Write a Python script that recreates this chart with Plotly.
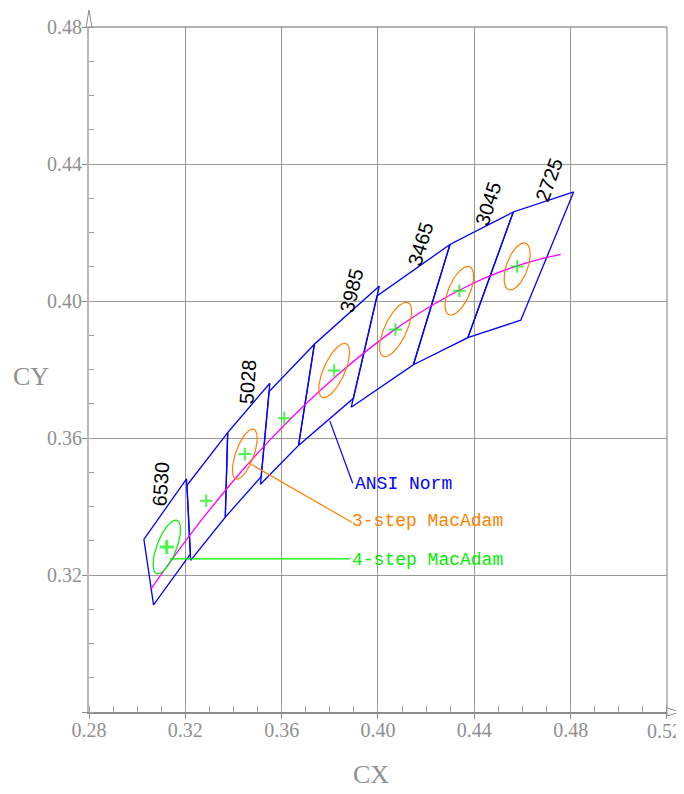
import numpy as np
import plotly.graph_objects as go

# ---------------- data ----------------
# ANSI C78.377 quadrangles (corner chromaticities)
quad_names = ["6500K", "5700K", "5000K", "4500K", "4000K", "3500K", "3000K", "2700K"]
quad_x = [
    [0.3205, 0.3028, 0.3068, 0.3221],
    [0.3376, 0.3207, 0.3222, 0.3366],
    [0.3551, 0.3376, 0.3366, 0.3515],
    [0.3736, 0.3548, 0.3512, 0.3670],
    [0.4006, 0.3736, 0.3670, 0.3898],
    [0.4299, 0.3996, 0.3889, 0.4147],
    [0.4562, 0.4299, 0.4147, 0.4373],
    [0.4813, 0.4562, 0.4373, 0.4593],
]
quad_y = [
    [0.3481, 0.3304, 0.3113, 0.3261],
    [0.3616, 0.3462, 0.3243, 0.3369],
    [0.3760, 0.3616, 0.3369, 0.3487],
    [0.3874, 0.3736, 0.3465, 0.3578],
    [0.4044, 0.3874, 0.3578, 0.3716],
    [0.4165, 0.4015, 0.3690, 0.3814],
    [0.4260, 0.4165, 0.3814, 0.3893],
    [0.4319, 0.4260, 0.3893, 0.3944],
]
center_x = [0.3123, 0.3287, 0.3447, 0.3611, 0.3818, 0.4073, 0.4338, 0.4578]
center_y = [0.3282, 0.3417, 0.3553, 0.3658, 0.3797, 0.3917, 0.4030, 0.4101]

# MacAdam ellipses (1-step semi-axes, orientation, number of steps)
ell_cx = [0.3123, 0.3447, 0.3818, 0.4073, 0.4338, 0.4578]
ell_cy = [0.3282, 0.3553, 0.3797, 0.3917, 0.4030, 0.4101]
ell_a = [0.00223, 0.00274, 0.00313, 0.00317, 0.00278, 0.00258]
ell_b = [0.00095, 0.00118, 0.00134, 0.00139, 0.00136, 0.00137]
ell_theta = [58.23, 59.62, 54.00, 52.53, 53.22, 57.17]
ell_steps = [4, 3, 3, 3, 3, 3]

# Planckian locus (read / tabulated points)
planck_x = [0.3055, 0.315, 0.325, 0.335, 0.345, 0.355, 0.365, 0.375, 0.385,
            0.395, 0.405, 0.415, 0.425, 0.435, 0.445, 0.455, 0.465, 0.4759]
planck_y = [0.3157, 0.3251, 0.3345, 0.3433, 0.3516, 0.3593, 0.3665, 0.3732, 0.3795,
            0.3853, 0.3907, 0.3955, 0.3998, 0.4036, 0.4069, 0.4096, 0.4118, 0.4136]

# CCT labels
cct_labels = ["6530", "5028", "3985", "3465", "3045", "2725"]
cct_x = [0.3099, 0.3460, 0.3891, 0.4176, 0.4460, 0.4713]
cct_y = [0.3465, 0.3766, 0.4032, 0.4167, 0.4285, 0.4355]
cct_angle = [-86, -86, -76, -73, -72, -70]

# callouts
ansi_lead_x = [0.3800, 0.3895]
ansi_lead_y = [0.3650, 0.3468]
mac3_lead_x = [0.3464, 0.3891]
mac3_lead_y = [0.3527, 0.3354]
mac4_lead_x = [0.3136, 0.3883]
mac4_lead_y = [0.3247, 0.3247]
callout_text = ["ANSI Norm", "3-step MacAdam", "4-step MacAdam"]
callout_x = [0.3896, 0.3885, 0.3885]
callout_y = [0.3465, 0.3357, 0.3244]

x_ticks = [0.28, 0.32, 0.36, 0.40, 0.44, 0.48, 0.52]
y_ticks = [0.28, 0.32, 0.36, 0.40, 0.44, 0.48]
x_ticklabels = ["0.28", "0.32", "0.36", "0.40", "0.44", "0.48", ""]
x_last_label = "0.52"   # drawn right-aligned at the axis end so it stays inside the page
y_ticklabels = ["", "0.32", "0.36", "0.40", "0.44", "0.48"]

# ---------------- figure ----------------
BLUE = "#0000ff"
ORANGE = "#ff8000"
GREEN = "#00ee00"
MAGENTA = "#ff00ff"
GRID = "#999999"
TICKFONT = dict(family="Liberation Serif, DejaVu Serif", size=20, color="#909090")

fig = go.Figure()

for qx, qy in zip(quad_x, quad_y):
    fig.add_trace(go.Scatter(x=qx + [qx[0]], y=qy + [qy[0]], mode="lines",
                             line=dict(color=BLUE, width=1.3), hoverinfo="skip"))

fig.add_trace(go.Scatter(x=planck_x, y=planck_y, mode="lines",
                         line=dict(color=MAGENTA, width=1.3, shape="spline"),
                         hoverinfo="skip"))

t = np.linspace(0, 2 * np.pi, 120)
for cx, cy, a, b, th, n in zip(ell_cx, ell_cy, ell_a, ell_b, ell_theta, ell_steps):
    A, B, r = a * n, b * n, np.radians(th)
    ex = cx + A * np.cos(t) * np.cos(r) - B * np.sin(t) * np.sin(r)
    ey = cy + A * np.cos(t) * np.sin(r) + B * np.sin(t) * np.cos(r)
    col = GREEN if n == 4 else ORANGE
    fig.add_trace(go.Scatter(x=ex, y=ey, mode="lines",
                             line=dict(color=col, width=1.2), hoverinfo="skip"))

fig.add_trace(go.Scatter(x=center_x, y=center_y, mode="markers",
                         marker=dict(symbol="cross-thin", size=[10, 9, 9, 9, 9, 9, 9, 9],
                                     line=dict(color=GREEN, width=[3, 2, 2, 2, 2, 2, 2, 2])),
                         hoverinfo="skip"))

for lx, ly, col in [(ansi_lead_x, ansi_lead_y, BLUE),
                    (mac3_lead_x, mac3_lead_y, ORANGE),
                    (mac4_lead_x, mac4_lead_y, GREEN)]:
    fig.add_trace(go.Scatter(x=lx, y=ly, mode="lines",
                             line=dict(color=col, width=1.2), hoverinfo="skip"))

annotations = []
for txt, x, y, ang in zip(cct_labels, cct_x, cct_y, cct_angle):
    annotations.append(dict(x=x, y=y, xref="x", yref="y", text=txt, showarrow=False,
                            textangle=ang, xanchor="center", yanchor="middle",
                            font=dict(family="Liberation Sans, Arial", size=20, color="black")))
for txt, x, y, col in zip(callout_text, callout_x, callout_y, [BLUE, ORANGE, GREEN]):
    annotations.append(dict(x=x, y=y, xref="x", yref="y", text=txt, showarrow=False,
                            xanchor="left", yanchor="middle",
                            font=dict(family="Liberation Mono, DejaVu Sans Mono", size=18, color=col)))
annotations.append(dict(x=1.0294, y=-0.028, xref="paper", yref="paper", text=x_last_label,
                        showarrow=False, xanchor="right", yanchor="middle", font=TICKFONT))
annotations.append(dict(x=-0.1, y=0.49, xref="paper", yref="paper", text="CY", showarrow=False,
                        xanchor="center", yanchor="middle",
                        font=dict(family="Liberation Serif, DejaVu Serif", size=26, color="#909090")))
annotations.append(dict(x=0.488, y=-0.091, xref="paper", yref="paper", text="CX", showarrow=False,
                        xanchor="center", yanchor="middle",
                        font=dict(family="Liberation Serif, DejaVu Serif", size=26, color="#909090")))

shapes = [
    # frame top & right
    dict(type="line", xref="paper", yref="paper", x0=0, x1=1, y0=1, y1=1,
         line=dict(color=GRID, width=1.3)),
    dict(type="line", xref="paper", yref="paper", x0=1, x1=1, y0=0, y1=1,
         line=dict(color=GRID, width=1.3)),
    # axis arrows
    dict(type="path", xref="paper", yref="paper",
         path="M -0.005,1.0 L 0,1.0248 L 0.005,1.0 Z",
         line=dict(color="#8c8c8c", width=1), fillcolor="white"),
    dict(type="path", xref="paper", yref="paper",
         path="M 1.0,-0.0058 L 1.0225,0 L 1.0,0.0058 Z",
         line=dict(color="#8c8c8c", width=1), fillcolor="white"),
]

# page body has an 8px margin; the figure is sized so the page does not overflow the window
fig.update_layout(
    width=676, height=778,
    margin=dict(l=81, r=17, t=19, b=74, autoexpand=False),
    paper_bgcolor="white", plot_bgcolor="white",
    showlegend=False,
    annotations=annotations,
    shapes=shapes,
    xaxis=dict(range=[0.28, 0.52002], tickvals=x_ticks, ticktext=x_ticklabels,
               automargin=False,
               showgrid=True, gridcolor=GRID, gridwidth=1,
               zeroline=False, showline=True, linecolor="#8c8c8c", linewidth=1.5,
               ticks="outside", ticklen=5, tickcolor="#8c8c8c", tickwidth=1,
               tickfont=TICKFONT, ticklabelstandoff=-6,
               minor=dict(dtick=0.01, tick0=0.28, ticks="inside", ticklen=6,
                          tickcolor="#a0a0a0", tickwidth=1, showgrid=False)),
    yaxis=dict(range=[0.28, 0.48002], tickvals=y_ticks, ticktext=y_ticklabels,
               automargin=False,
               showgrid=True, gridcolor=GRID, gridwidth=1,
               zeroline=False, showline=True, linecolor="#b8b8b8", linewidth=2,
               ticks="outside", ticklen=5, tickcolor="#8c8c8c", tickwidth=1,
               tickfont=TICKFONT, ticklabelstandoff=-4,
               minor=dict(dtick=0.01, tick0=0.28, ticks="inside", ticklen=5,
                          tickcolor="#a0a0a0", tickwidth=1, showgrid=False)),
)

fig.write_html("out.html")
